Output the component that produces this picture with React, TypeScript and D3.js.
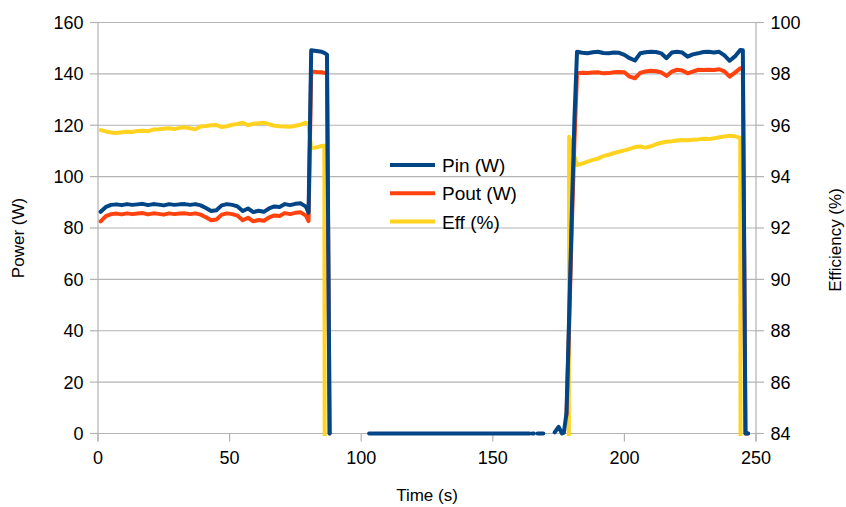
import React from 'react';
import * as d3 from 'd3';

// Time stamps (s) shared by all series; null = no sample drawn
const TIME_S: number[] = [
  1, 3, 5, 7, 9, 11, 13, 15, 17, 19, 21, 23, 25, 27, 29, 31, 33, 35, 37, 39,
  41, 43, 45, 47, 49, 51, 53, 55, 57, 59, 61, 63, 65, 67, 69, 71, 73, 75, 77, 79,
  80, 81, 83, 85, 86, 87, 88,
  95,
  103, 164, 164.5, 165, 165.6, 166.2, 167, 169.2, 170, 173.5, 175, 176.3, 177,
  178, 179, 180, 181, 182,
  184, 186, 188, 190, 192, 194, 196, 198, 200, 202, 204, 206, 208, 210, 212, 214,
  216, 218, 220, 222, 224, 226, 228, 230, 232, 234, 236, 238, 240, 242, 244,
  245, 246, 247,
];

const PIN_W: (number | null)[] = [
  86.3, 88.2, 89.0, 89.2, 88.9, 89.3, 89.0, 89.2, 89.4, 88.9, 89.3, 89.1, 88.8, 89.3, 89.0, 89.2, 89.3, 89.0, 89.3, 88.8,
  87.8, 86.6, 86.9, 88.8, 89.3, 89.0, 88.4, 86.6, 87.6, 86.2, 86.7, 86.3, 87.6, 88.4, 88.2, 89.3, 88.9, 89.4, 89.6, 88.3,
  86.0, 149.2, 148.9, 148.6, 148.2, 147.5, 0,
  null,
  0, 0, null, 0, 0, null, 0, 0, null, 0.4, 2.6, 0, 0.3,
  8, 45, 85, 122, 148.6,
  148.2, 148.0, 148.4, 148.6, 148.1, 148.0, 148.3, 148.2, 147.4, 146.1, 145.2, 148.0, 148.4, 148.6, 148.5, 148.0,
  146.1, 148.3, 148.6, 148.3, 146.7, 147.6, 148.0, 148.5, 148.6, 148.3, 148.6, 147.2, 145.1, 146.8, 149.3,
  149.2, 0, 0,
];

const POUT_W: (number | null)[] = [
  82.6, 84.6, 85.4, 85.6, 85.3, 85.7, 85.4, 85.6, 85.8, 85.3, 85.7, 85.5, 85.2, 85.7, 85.4, 85.6, 85.7, 85.4, 85.7, 85.2,
  84.2, 83.0, 83.3, 85.2, 85.7, 85.4, 84.8, 83.0, 84.0, 82.6, 83.1, 82.8, 84.1, 84.9, 84.7, 85.8, 85.4, 85.9, 86.1, 84.8,
  82.7, 140.9, 140.7, 140.6, 140.4, 140.2, 0,
  null,
  null, null, null, null, null, null, null, null, null, null, null, null, null,
  7, 42, 80, 113, 140.2,
  140.4, 140.3, 140.5, 140.6, 140.2, 140.3, 140.6, 140.7, 140.6, 138.9, 138.3, 140.4, 140.9, 141.2, 141.0, 140.6,
  139.2, 140.9, 141.6, 141.3, 140.2, 140.9, 141.6, 141.5, 141.6, 141.5, 141.8, 141.0, 138.9, 140.5, 142.2,
  142.0, 0, 0,
];

const EFF_PCT: (number | null)[] = [
  95.81, 95.76, 95.72, 95.70, 95.73, 95.75, 95.74, 95.78, 95.79, 95.77, 95.83, 95.84, 95.86, 95.88, 95.85, 95.90, 95.92, 95.88, 95.84, 95.95,
  95.97, 96.00, 96.01, 95.93, 95.96, 96.02, 96.05, 96.10, 96.00, 96.06, 96.08, 96.10, 96.04, 95.98, 95.96, 95.95, 95.94, 95.98, 96.02, 96.10,
  96.05, 95.10, 95.14, 95.19, 95.20, 0, null,
  null,
  null, null, null, null, null, null, null, null, null, null, null, null, null,
  0, 95.55, 95.2, 94.8, 94.45,
  94.51, 94.58, 94.65, 94.70, 94.80, 94.85, 94.92, 94.97, 95.02, 95.08, 95.15, 95.17, 95.13, 95.18, 95.26, 95.32,
  95.36, 95.38, 95.41, 95.43, 95.42, 95.44, 95.45, 95.47, 95.46, 95.49, 95.53, 95.56, 95.59, 95.57, 95.51,
  0, null, null,
];

const TIME_TICKS = [0, 50, 100, 150, 200, 250];
const POWER_TICKS = [0, 20, 40, 60, 80, 100, 120, 140, 160];
const EFF_TICKS = [84, 86, 88, 90, 92, 94, 96, 98, 100];

const SERIES_NAMES = ['Pin (W)', 'Pout (W)', 'Eff (%)'];
const SERIES_COLORS = ['#004586', '#ff420e', '#ffd320'];

const W = 846;
const H = 507;
const PLOT = { left: 98, right: 756, top: 22.5, bottom: 433.5 };
const FONT = '"Liberation Sans", Arial, sans-serif';
const GRID = '#b3b3b3';

export default function App() {
  const x = d3.scaleLinear().domain([0, 250]).range([PLOT.left, PLOT.right]);
  const yP = d3.scaleLinear().domain([0, 160]).range([PLOT.bottom, PLOT.top]);
  const yE = d3.scaleLinear().domain([84, 100]).range([PLOT.bottom, PLOT.top]);
  const idx = d3.range(TIME_S.length);

  const mkLine = (vals: (number | null)[], y: d3.ScaleLinear<number, number>) =>
    d3
      .line<number>()
      .defined((i) => vals[i] != null)
      .x((i) => x(TIME_S[i]))
      .y((i) => y(vals[i] as number))(idx) || '';

  const pinPath = mkLine(PIN_W, yP);
  const poutPath = mkLine(POUT_W, yP);
  const effPath = mkLine(EFF_PCT, yE);

  const legendY = [165, 193.3, 221.6];

  return (
    <svg
      width={W}
      height={H}
      viewBox={`0 0 ${W} ${H}`}
      style={{ position: 'absolute', left: 0, top: 0, background: '#fff' }}
      fontFamily={FONT}
    >
      <defs>
        <clipPath id="plotClip">
          <rect x={PLOT.left - 2} y={0} width={PLOT.right - PLOT.left + 4} height={PLOT.bottom + 2.5} />
        </clipPath>
      </defs>
      <rect x={0} y={0} width={W} height={H} fill="#fff" />

      {/* gridlines + y ticks */}
      {POWER_TICKS.map((t) => (
        <g key={'g' + t}>
          <line x1={PLOT.left} x2={PLOT.right} y1={yP(t)} y2={yP(t)} stroke={GRID} strokeWidth={1.2} />
          <line x1={PLOT.left - 8} x2={PLOT.left} y1={yP(t)} y2={yP(t)} stroke={GRID} strokeWidth={1.2} />
          <text x={83.5} y={yP(t) + 6.4} fontSize={18} textAnchor="end" fill="#000">
            {t}
          </text>
        </g>
      ))}
      {EFF_TICKS.map((t) => (
        <g key={'e' + t}>
          <line x1={PLOT.right} x2={PLOT.right + 8} y1={yE(t)} y2={yE(t)} stroke={GRID} strokeWidth={1.2} />
          <text x={770.5} y={yE(t) + 6.4} fontSize={18} textAnchor="start" fill="#000">
            {t}
          </text>
        </g>
      ))}
      {/* axis lines */}
      <line x1={PLOT.left} x2={PLOT.left} y1={PLOT.top} y2={PLOT.bottom + 8} stroke={GRID} strokeWidth={1.2} />
      <line x1={PLOT.right} x2={PLOT.right} y1={PLOT.top} y2={PLOT.bottom + 8} stroke={GRID} strokeWidth={1.2} />
      {TIME_TICKS.map((t) => (
        <g key={'x' + t}>
          <line x1={x(t)} x2={x(t)} y1={PLOT.bottom} y2={PLOT.bottom + 8} stroke={GRID} strokeWidth={1.2} />
          <text x={x(t)} y={463.8} fontSize={18} textAnchor="middle" fill="#000">
            {t}
          </text>
        </g>
      ))}

      {/* series */}
      <g clipPath="url(#plotClip)" fill="none" strokeLinejoin="round" strokeLinecap="round">
        <path d={effPath} stroke={SERIES_COLORS[2]} strokeWidth={4} />
        <path d={poutPath} stroke={SERIES_COLORS[1]} strokeWidth={4} />
        <path d={pinPath} stroke={SERIES_COLORS[0]} strokeWidth={4} />
      </g>

      {/* axis titles */}
      <text transform="translate(24,238) rotate(-90)" fontSize={17} textAnchor="middle" fill="#000">
        Power (W)
      </text>
      <text transform="translate(841,240) rotate(-90)" fontSize={17} textAnchor="middle" fill="#000">
        Efficiency (%)
      </text>
      <text x={427} y={500.5} fontSize={17} textAnchor="middle" fill="#000">
        Time (s)
      </text>

      {/* legend */}
      {SERIES_NAMES.map((name, i) => (
        <g key={name}>
          <line x1={390} x2={435} y1={legendY[i]} y2={legendY[i]} stroke={SERIES_COLORS[i]} strokeWidth={4} />
          <text x={442} y={legendY[i] + 7} fontSize={19} fill="#000">
            {name}
          </text>
        </g>
      ))}
    </svg>
  );
}
